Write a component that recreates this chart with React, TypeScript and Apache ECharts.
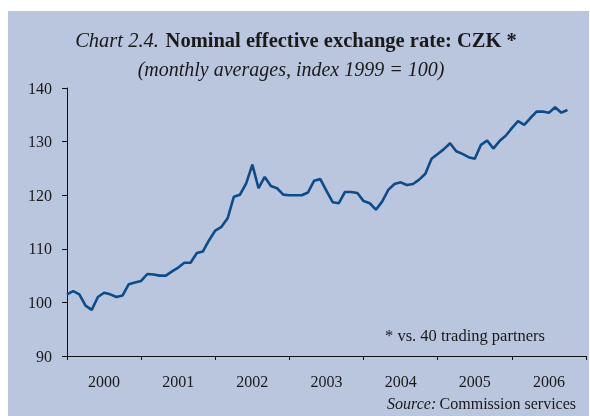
import React, { useEffect, useRef } from "react";
import * as echarts from "echarts";

const years = ["2000", "2001", "2002", "2003", "2004", "2005", "2006"];
// Monthly values, Jan 2000 .. Oct 2006
const neerValues = [
  101.5, 102.1, 101.5, 99.4, 98.6, 101.0, 101.8, 101.5, 101.0, 101.3, 103.4, 103.7,
  104.0, 105.3, 105.2, 105.0, 105.0, 105.8, 106.5, 107.4, 107.4, 109.2, 109.5, 111.6,
  113.4, 114.1, 115.7, 119.7, 120.1, 122.2, 125.7, 121.3, 123.4, 121.7, 121.3, 120.1,
  120.0, 120.0, 120.0, 120.5, 122.7, 123.0, 120.8, 118.7, 118.5, 120.6, 120.6, 120.4,
  118.9, 118.5, 117.3, 118.8, 121.0, 122.1, 122.4, 121.9, 122.1, 122.9, 124.0, 126.8,
  127.7, 128.6, 129.7, 128.2, 127.7, 127.1, 126.8, 129.4, 130.2, 128.7, 130.1, 131.1,
  132.5, 133.8, 133.1, 134.4, 135.6, 135.6, 135.4, 136.4, 135.4, 135.9,
];
const yTicks = { min: 90, max: 140, interval: 10 };
const monthsTotal = years.length * 12;

export default function App() {
  const ref = useRef<HTMLDivElement>(null);
  useEffect(() => {
    if (!ref.current) return;
    const chart = echarts.init(ref.current, null, { renderer: "svg" });
    const serif = "'Liberation Serif', 'DejaVu Serif', serif";
    const txt = "#1a1a1a";
    chart.setOption({
      animation: false,
      graphic: [
        {
          type: "rect",
          z: -10,
          silent: true,
          shape: { x: 8, y: 11, width: 581, height: 405 },
          style: { fill: "#BAC5DE" },
        },
        {
          type: "text",
          x: 296,
          y: 40,
          style: {
            text: "{i|Chart 2.4.}  {b|Nominal effective exchange rate: CZK *}",
            align: "center",
            verticalAlign: "middle",
            rich: {
              i: { fontFamily: serif, fontStyle: "italic", fontSize: 20.5, fill: txt },
              b: { fontFamily: serif, fontWeight: "bold", fontSize: 20.5, fill: txt },
            },
          },
        },
        {
          type: "text",
          x: 291,
          y: 69,
          style: {
            text: "(monthly averages, index 1999 = 100)",
            align: "center",
            verticalAlign: "middle",
            fontFamily: serif,
            fontStyle: "italic",
            fontSize: 20,
            fill: txt,
          },
        },
        {
          type: "text",
          x: 545,
          y: 335,
          style: {
            text: "* vs. 40 trading partners",
            align: "right",
            verticalAlign: "middle",
            fontFamily: serif,
            fontSize: 16.5,
            fill: txt,
          },
        },
        {
          type: "text",
          x: 576,
          y: 403,
          style: {
            text: "{i|Source:} {n|Commission services}",
            align: "right",
            verticalAlign: "middle",
            rich: {
              i: { fontFamily: serif, fontStyle: "italic", fontSize: 16, fill: txt },
              n: { fontFamily: serif, fontSize: 16, fill: txt },
            },
          },
        },
      ],
      grid: { left: 67, right: 4, top: 88, bottom: 60, containLabel: false },
      xAxis: [
        {
          type: "value",
          min: 0,
          max: monthsTotal,
          interval: 12,
          axisLine: { show: true, onZero: false, lineStyle: { color: "#111", width: 1 } },
          axisTick: { show: true, length: 4, inside: false, lineStyle: { color: "#111" } },
          axisLabel: { show: false },
          splitLine: { show: false },
        },
        {
          type: "category",
          data: years,
          position: "bottom",
          boundaryGap: true,
          axisLine: { show: false },
          axisTick: { show: false },
          axisLabel: { margin: 17, fontFamily: serif, fontSize: 16, color: txt },
          splitLine: { show: false },
        },
      ],
      yAxis: {
        type: "value",
        min: yTicks.min,
        max: yTicks.max,
        interval: yTicks.interval,
        axisLine: { show: true, lineStyle: { color: "#111", width: 1 } },
        axisTick: { show: true, length: 5, lineStyle: { color: "#111" } },
        axisLabel: { margin: 15, fontFamily: serif, fontSize: 16, color: txt },
        splitLine: { show: false },
      },
      series: [
        {
          type: "line",
          xAxisIndex: 0,
          data: neerValues.map((v, i) => [i, v]),
          showSymbol: false,
          symbol: "none",
          lineStyle: { color: "#0B4C8A", width: 2.6 },
          z: 5,
        },
      ],
    });
    return () => chart.dispose();
  }, []);
  return (
    <div
      ref={ref}
      style={{ position: "fixed", left: 0, top: 0, width: 590, height: 416 }}
    />
  );
}
